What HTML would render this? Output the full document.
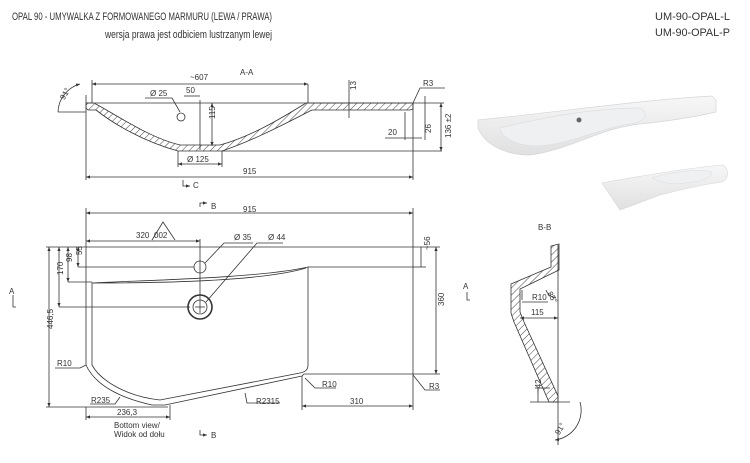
<!DOCTYPE html>
<html><head><meta charset="utf-8"><style>
html,body{margin:0;padding:0;background:#fff;}
svg{display:block;}
text{font-family:"Liberation Sans",sans-serif;fill:#333;}
</style></head><body>
<svg width="750" height="463" viewBox="0 0 750 463" xmlns="http://www.w3.org/2000/svg">
<defs>
<pattern id="h" width="5" height="5" patternUnits="userSpaceOnUse" patternTransform="rotate(45)">
<rect width="5" height="5" fill="#fff"/><line x1="0" y1="0" x2="0" y2="5" stroke="#444" stroke-width="1"/></pattern>
<marker id="a" markerWidth="6" markerHeight="6" refX="5" refY="3" orient="auto-start-reverse"><path d="M0,1 L5,3 L0,5 z" fill="#333"/></marker>
<linearGradient id="g1" x1="0" y1="0" x2="0" y2="1"><stop offset="0" stop-color="#f7f7f7"/><stop offset="1" stop-color="#e0e0e0"/></linearGradient>
</defs>
<!-- header -->
<text x="12" y="20" font-size="11" textLength="260" lengthAdjust="spacingAndGlyphs">OPAL 90  - UMYWALKA Z FORMOWANEGO MARMURU (LEWA / PRAWA)</text>
<text x="105" y="38" font-size="11" textLength="167" lengthAdjust="spacingAndGlyphs">wersja prawa jest odbiciem lustrzanym lewej</text>
<text x="655" y="20" font-size="11" textLength="75" lengthAdjust="spacingAndGlyphs">UM-90-OPAL-L</text>
<text x="655" y="36" font-size="11" textLength="75" lengthAdjust="spacingAndGlyphs">UM-90-OPAL-P</text>

<g stroke="#333" stroke-width="0.8" fill="none">
<!-- Section A-A -->
<path d="M86,103 L413,103 L413,109 L410,110 L312,110 C290,121 255,140 222,151 L178,151 C145,142 115,125 96,110 L88,110 L86,108 Z" fill="url(#h)"/>
<path d="M94,103 C120,117 150,138 180,145 L220,145 C250,137 282,118 306,103 Z" fill="#fff"/>
<line x1="94" y1="103" x2="306" y2="103" stroke="#fff" stroke-width="1"/>
<line x1="86" y1="103" x2="413" y2="103"/>
<circle cx="181" cy="117" r="4" fill="#fff"/>
<line x1="86" y1="95" x2="86" y2="180"/>
<line x1="413" y1="103" x2="413" y2="180"/>
<line x1="92" y1="84" x2="308" y2="84" marker-start="url(#a)" marker-end="url(#a)"/>
<line x1="308" y1="84" x2="308" y2="103"/><line x1="92" y1="80" x2="92" y2="103"/>
<line x1="86" y1="177" x2="413" y2="177" marker-start="url(#a)" marker-end="url(#a)"/>
<line x1="178" y1="151" x2="178" y2="167"/><line x1="222" y1="151" x2="222" y2="167"/>
<line x1="178" y1="164" x2="222" y2="164" marker-start="url(#a)" marker-end="url(#a)"/>
<line x1="212" y1="103" x2="212" y2="146" marker-start="url(#a)" marker-end="url(#a)"/>
<line x1="200" y1="100" x2="200" y2="150"/>
<line x1="184" y1="96" x2="200" y2="96"/>
<path d="M145,98 L172,98 L180,112"/>
<line x1="349" y1="80" x2="349" y2="118"/>
<line x1="222" y1="151" x2="442" y2="151"/>
<line x1="413" y1="103" x2="444" y2="103"/>
<line x1="441" y1="103" x2="441" y2="151" marker-start="url(#a)" marker-end="url(#a)"/>
<line x1="425" y1="96" x2="425" y2="140"/>
<line x1="405" y1="112" x2="405" y2="140"/>
<line x1="385" y1="138" x2="422" y2="138"/>
<path d="M413,103 L420,88 L445,88"/>
<path d="M58,112 A30,30 0 0 1 80,84" marker-end="url(#a)"/>
<line x1="58" y1="112" x2="86" y2="112"/>
<path d="M183,180 L183,186 L190,186" marker-end="url(#a)"/>

<!-- Bottom view -->
<path d="M86,247 L413,247 L413,374 L304,374 L302,376 L165,405 L152,405 C120,398 95,385 86,365 Z"/>
<path d="M92,283 C150,280 260,278 308,267 L308,365 C308,370 305,372 300,373 L160,400 C125,396 100,380 92,365 Z"/>
<path d="M92,283 C150,283 260,282 306,268"/>
<line x1="308" y1="267" x2="413" y2="267"/>
<circle cx="200" cy="267" r="6"/>
<circle cx="200" cy="307" r="12" stroke-width="1.6"/>
<circle cx="200" cy="307" r="7"/>
<line x1="200" y1="239" x2="200" y2="313"/><line x1="195" y1="307" x2="205" y2="307"/>
<line x1="86" y1="213" x2="413" y2="213" marker-start="url(#a)" marker-end="url(#a)"/>
<line x1="86" y1="208" x2="86" y2="247"/><line x1="413" y1="208" x2="413" y2="247"/>
<line x1="86" y1="241" x2="200" y2="241" marker-start="url(#a)" marker-end="url(#a)"/>
<path d="M152,240 L163,222 L175,240"/>
<path d="M205,263 L224,243 L253,243"/>
<path d="M206,302 L257,243 L283,243"/>
<line x1="46" y1="247" x2="86" y2="247"/>
<line x1="49" y1="247" x2="49" y2="407" marker-start="url(#a)" marker-end="url(#a)"/>
<line x1="46" y1="407" x2="168" y2="407"/>
<line x1="59" y1="247" x2="59" y2="307" marker-start="url(#a)" marker-end="url(#a)"/>
<line x1="59" y1="307" x2="190" y2="307"/>
<line x1="68" y1="247" x2="68" y2="282" marker-start="url(#a)" marker-end="url(#a)"/>
<line x1="68" y1="282" x2="92" y2="282"/>
<line x1="78" y1="247" x2="78" y2="267" marker-start="url(#a)" marker-end="url(#a)"/>
<line x1="78" y1="267" x2="194" y2="267"/>
<line x1="413" y1="247" x2="440" y2="247"/><line x1="413" y1="374" x2="440" y2="374"/>
<line x1="436" y1="247" x2="436" y2="374" marker-start="url(#a)" marker-end="url(#a)"/>
<line x1="413" y1="267" x2="426" y2="267"/>
<line x1="421" y1="247" x2="421" y2="267"/>
<line x1="302" y1="376" x2="302" y2="410"/>
<line x1="302" y1="406" x2="413" y2="406" marker-start="url(#a)" marker-end="url(#a)"/>
<line x1="413" y1="374" x2="413" y2="410"/>
<line x1="86" y1="407" x2="86" y2="420"/><line x1="170" y1="405" x2="170" y2="420"/>
<line x1="86" y1="417" x2="170" y2="417" marker-start="url(#a)" marker-end="url(#a)"/>
<path d="M55,368 L80,368 L86,365"/>
<path d="M90,404 L115,404 L120,397"/>
<path d="M280,403 L247,403 L245,393"/>
<path d="M336,388 L315,388 L305,378"/>
<path d="M440,390 L425,390 L413,375"/>
<path d="M200,207 L200,203 L207,203" marker-end="url(#a)"/>
<path d="M200,430 L200,435 L207,435" marker-end="url(#a)"/>
<path d="M13,299 L13,307 L16,307"/><line x1="13" y1="299" x2="13" y2="295"/>
<path d="M467,292 L467,300 L470,300"/>

<!-- Section B-B -->
<path d="M551,246 L559,244 L559,270 L520,289 L520,312 L524,322 L558,396 L558,402 L549,402 L545,393 L514,322 L511,313 L511,284 L551,267 Z" fill="url(#h)"/>
<line x1="558" y1="245" x2="558" y2="445"/>
<line x1="520" y1="318" x2="558" y2="318" marker-start="url(#a)" marker-end="url(#a)"/>
<path d="M522,300 L522,290 M522,302 L548,302"/>
<line x1="530" y1="402" x2="570" y2="402"/>
<line x1="535" y1="388" x2="550" y2="388"/><line x1="538" y1="388" x2="538" y2="402"/>
<path d="M580,402 A30,30 0 0 1 555,440" marker-end="url(#a)"/>
<path d="M546,290 A12,12 0 0 0 556,298"/>
</g>
<g font-size="8">
<text x="240" y="75">A-A</text>
<text x="190" y="80">~607</text>
<text x="150" y="96">Ø 25</text>
<text x="186" y="93">50</text>
<text x="216" y="130" transform="rotate(-90 210 125)">115</text>
<text x="187" y="162">Ø 125</text>
<text x="243" y="174">915</text>
<text x="193" y="188">C</text>
<text x="355" y="95" transform="rotate(-90 353 92)">13</text>
<text x="423" y="86">R3</text>
<text x="388" y="135">20</text>
<text x="424" y="134" transform="rotate(-90 427 130)">26</text>
<text x="437" y="140" transform="rotate(-90 443 132)">136 ±2</text>
<text x="60" y="97" transform="rotate(-60 65 95)">91°</text>
<text x="243" y="212">915</text>
<text x="211" y="209">B</text>
<text x="136" y="238">320</text>
<text x="154" y="238">002</text>
<text x="234" y="240">Ø 35</text>
<text x="268" y="240">Ø 44</text>
<text x="83" y="260" transform="rotate(-90 80 258)">55</text>
<text x="72" y="270" transform="rotate(-90 68 266)">98</text>
<text x="61" y="283" transform="rotate(-90 58 278)">170</text>
<text x="50" y="340" transform="rotate(-90 46 333)">446,5</text>
<text x="430" y="262" transform="rotate(-90 424 256)">~56</text>
<text x="440" y="318" transform="rotate(-90 436 310)">360</text>
<text x="57" y="366">R10</text>
<text x="322" y="387">R10</text>
<text x="429" y="389">R3</text>
<text x="91" y="403">R235</text>
<text x="256" y="404">R2315</text>
<text x="350" y="404">310</text>
<text x="117" y="415">236,3</text>
<text x="114" y="428">Bottom view/</text>
<text x="114" y="437">Widok od dołu</text>
<text x="211" y="438">B</text>
<text x="9" y="294">A</text>
<text x="463" y="289">A</text>
<text x="538" y="230">B-B</text>
<text x="532" y="300">R10</text>
<text x="531" y="315">115</text>
<text x="549" y="298" transform="rotate(60 552 294)">85°</text>
<text x="540" y="398" transform="rotate(-90 538 395)">~42</text>
<text x="555" y="432" transform="rotate(-60 560 430)">91°</text>
</g>

<!-- photos -->
<path d="M478,120 C560,112 640,100 712,96 L716,100 L716,112 C690,118 660,122 640,124 C600,128 570,150 530,155 C505,155 485,145 478,128 Z" fill="url(#g1)" stroke="#d6d6d6" stroke-width="0.7"/>
<path d="M500,128 C540,118 590,108 640,108 C650,114 645,122 630,124 C600,128 570,145 535,146 C515,145 502,138 500,128 Z" fill="#eff0f2" stroke="#dcdcdc" stroke-width="0.6"/>
<circle cx="579" cy="120" r="2.5" fill="#666"/>
<path d="M602,183 C640,176 690,168 723,165 C730,170 728,180 722,182 C700,185 680,190 660,195 L620,210 Z" fill="url(#g1)" stroke="#d6d6d6" stroke-width="0.6"/>
<path d="M652,178 C670,172 700,168 712,172 C712,178 700,182 685,183 C670,185 660,182 652,178 Z" fill="#eff0f2" stroke="#dcdcdc" stroke-width="0.5"/>
</svg>
</body></html>
